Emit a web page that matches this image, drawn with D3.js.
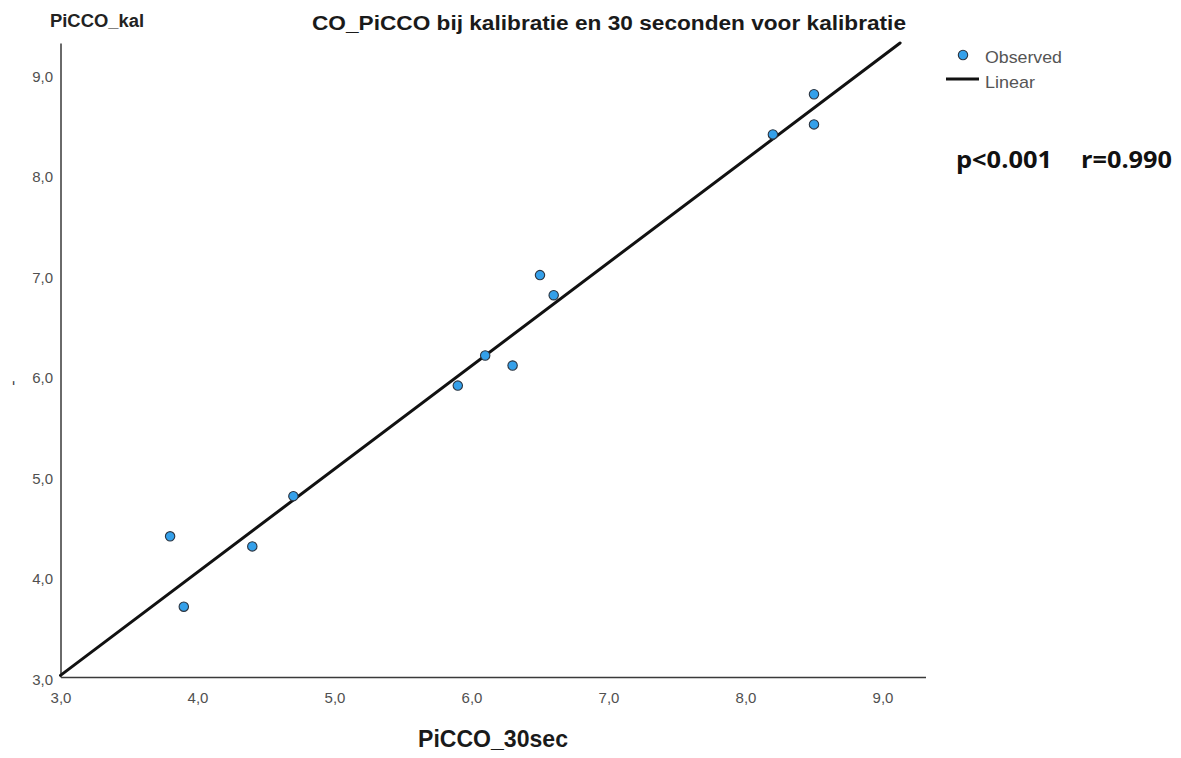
<!DOCTYPE html>
<html>
<head>
<meta charset="utf-8">
<script src="https://cdn.jsdelivr.net/npm/d3@7"></script>
<style>
  html, body { margin: 0; padding: 0; background: #fff; }
  svg { display: block; }
</style>
</head>
<body>
<div id="chart"></div>
<script>
// ---- data ----
const xValues = [3.8, 3.9, 4.4, 4.7, 5.9, 6.1, 6.3, 6.5, 6.6, 8.2, 8.5, 8.5];
const yValues = [4.4, 3.7, 4.3, 4.8, 5.9, 6.2, 6.1, 7.0, 6.8, 8.4, 8.8, 8.5];
const xTicks = [3, 4, 5, 6, 7, 8, 9];
const yTicks = [3, 4, 5, 6, 7, 8, 9];
const fitIntercept = -0.065;
const fitSlope = 1.027;
const titleText = "CO_PiCCO bij kalibratie en 30 seconden voor kalibratie";
const xTitle = "PiCCO_30sec";
const yTitle = "PiCCO_kal";
const legendLabels = ["Observed", "Linear"];
const statLabels = ["p<0.001", "r=0.990"];

// ---- layout ----
const W = 1181, H = 758;
const svg = d3.select("#chart").append("svg").attr("width", W).attr("height", H);

const x = d3.scaleLinear().domain([3, 9.314]).range([60.5, 925.5]);
const y = d3.scaleLinear().domain([3, 9.31]).range([677, 43]);
const fmt = d => d.toFixed(1).replace(".", ",");

// axes
const gx = svg.append("g").attr("transform", "translate(0,677)")
  .call(d3.axisBottom(x).tickValues(xTicks).tickFormat(fmt).tickSize(0).tickSizeOuter(0).tickPadding(15));
gx.select(".domain").attr("stroke", "#3a3a3a").attr("stroke-width", 1.6);
gx.selectAll("text").attr("font-family", "Liberation Sans, Arial, sans-serif").attr("font-size", 15).attr("fill", "#505050");

const gy = svg.append("g").attr("transform", "translate(60.5,0)")
  .call(d3.axisLeft(y).tickValues(yTicks).tickFormat(fmt).tickSize(0).tickSizeOuter(0).tickPadding(7.5));
gy.select(".domain").attr("stroke", "#5a5a5a").attr("stroke-width", 1.8);
gy.selectAll("text").attr("font-family", "Liberation Sans, Arial, sans-serif").attr("font-size", 15).attr("fill", "#505050").attr("dy", "0.48em");

// fit line
const xEnd = (y.domain()[1] - fitIntercept) / fitSlope;
const linePts = [3, xEnd].map(v => [v, fitIntercept + fitSlope * v]);
svg.append("path")
  .datum(linePts)
  .attr("d", d3.line().x(d => x(d[0])).y(d => y(d[1])))
  .attr("fill", "none").attr("stroke", "#111").attr("stroke-width", 3).attr("stroke-linecap", "round");

// points
svg.append("g").selectAll("circle")
  .data(xValues.map((v, i) => [v, yValues[i]]))
  .join("circle")
  .attr("cx", d => x(d[0])).attr("cy", d => y(d[1])).attr("r", 4.7)
  .attr("fill", "#34a0ea").attr("stroke", "#2b3440").attr("stroke-width", 1.1);

// texts
function txt(t, xx, yy, size, opts) {
  const e = svg.append("text").text(t).attr("x", xx).attr("y", yy)
    .attr("font-family", opts.family || "Liberation Sans, Arial, sans-serif")
    .attr("font-size", size)
    .attr("font-weight", opts.weight || "normal")
    .attr("fill", opts.fill || "#111");
  if (opts.len) e.attr("textLength", opts.len).attr("lengthAdjust", "spacingAndGlyphs");
  if (opts.anchor) e.attr("text-anchor", opts.anchor);
  return e;
}
txt(titleText, 312, 30, 20, { weight: "bold", len: 594, fill: "#1a1a1a" });
txt(yTitle, 50, 27, 18, { weight: "bold", len: 94, fill: "#222" });
txt(xTitle, 418, 747, 24, { weight: "bold", len: 150, fill: "#1a1a1a" });
svg.append("text").text("-").attr("transform", "translate(18,383) rotate(-90)")
  .attr("text-anchor", "middle").attr("font-family", "Liberation Sans, Arial, sans-serif")
  .attr("font-size", 16).attr("fill", "#444");

// legend
svg.append("circle").attr("cx", 963).attr("cy", 55).attr("r", 4.7)
  .attr("fill", "#34a0ea").attr("stroke", "#2b3440").attr("stroke-width", 1.1);
txt(legendLabels[0], 985, 63, 17, { len: 77, fill: "#555" });
svg.append("line").attr("x1", 946).attr("x2", 979).attr("y1", 79).attr("y2", 79)
  .attr("stroke", "#111").attr("stroke-width", 3);
txt(legendLabels[1], 985, 88, 17, { len: 50, fill: "#555" });

// stats
txt(statLabels[0], 956, 168, 23, { family: "Open Sans, Noto Sans, sans-serif", weight: "bold", len: 96, fill: "#111" });
txt(statLabels[1], 1081, 168, 23, { family: "Open Sans, Noto Sans, sans-serif", weight: "bold", len: 91, fill: "#111" });
</script>
</body>
</html>
